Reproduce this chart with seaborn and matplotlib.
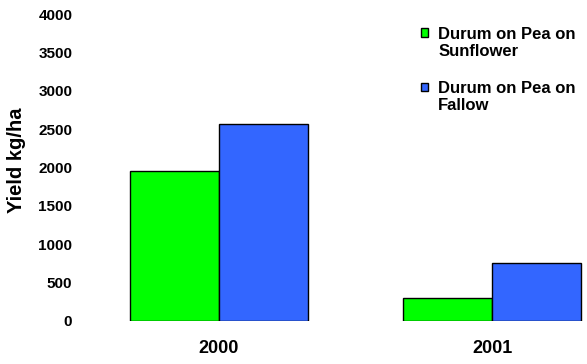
import matplotlib
matplotlib.use("Agg")
import matplotlib.pyplot as plt
import seaborn as sns
import pandas as pd
from matplotlib.patches import Rectangle
from matplotlib.legend_handler import HandlerPatch

# Durum yield by previous crop sequence
years = ["2000", "2001"]
series = ["Durum on Pea on\nSunflower", "Durum on Pea on\nFallow"]
sunflower = [1950, 300]
fallow = [2570, 750]
colors = ["#00FF00", "#3366FF"]
yticks = [0, 500, 1000, 1500, 2000, 2500, 3000, 3500, 4000]

df = pd.DataFrame({
    "Year": years * 2,
    "Series": [series[0]] * len(years) + [series[1]] * len(years),
    "Yield": sunflower + fallow,
})

sns.set_theme(style="white")
plt.rcParams["font.family"] = ["Liberation Sans", "DejaVu Sans"]
plt.rcParams["text.color"] = "black"
plt.rcParams["xtick.color"] = "black"
plt.rcParams["ytick.color"] = "black"
plt.rcParams["axes.labelcolor"] = "black"

fig = plt.figure(figsize=(5.87, 3.64), dpi=100)
ax = fig.add_axes([82 / 587, (364 - 320.7) / 364, (587 - 82) / 587, (320.7 - 14.3) / 364])

sns.barplot(data=df, x="Year", y="Yield", hue="Series", order=years,
            hue_order=series, palette=colors, width=0.65, gap=0,
            edgecolor="black", linewidth=1.0, saturation=1, ax=ax)

ax.set_xlim(-0.5, (587 - 82) / 273.5 - 0.5)
ax.set_ylim(0, 4000)
ax.set_yticks(yticks)
ax.set_yticklabels([str(v) for v in yticks], fontsize=11, fontweight="bold")
ax.set_xticks(range(len(years)))
ax.set_xticklabels(years, fontsize=13, fontweight="bold")
ax.tick_params(axis="y", length=0, pad=7)
ax.tick_params(axis="x", length=0, pad=14)
ax.set_xlabel("")
ax.set_ylabel("Yield kg/ha", fontsize=14.5, fontweight="bold")
ax.yaxis.set_label_coords(-56 / 505, 0.525)
for s in ax.spines.values():
    s.set_visible(False)


def top_aligned_box(legend, orig_handle, xdescent, ydescent, width, height, fontsize):
    # legend swatch sitting beside the first line of a two-line label
    return Rectangle((-xdescent, -ydescent + 0.6 * fontsize), width, height)


handles, labels = ax.get_legend_handles_labels()
ax.legend(handles, labels, loc="upper left", bbox_to_anchor=(414 / 587, 1 - 20 / 364),
          bbox_transform=fig.transFigure, frameon=False,
          prop={"size": 12, "weight": "bold"}, handlelength=0.45, handleheight=0.45,
          handletextpad=0.6, labelspacing=1.3, borderaxespad=0,
          handler_map={Rectangle: HandlerPatch(patch_func=top_aligned_box)})

fig.savefig("out.png", dpi=100)
